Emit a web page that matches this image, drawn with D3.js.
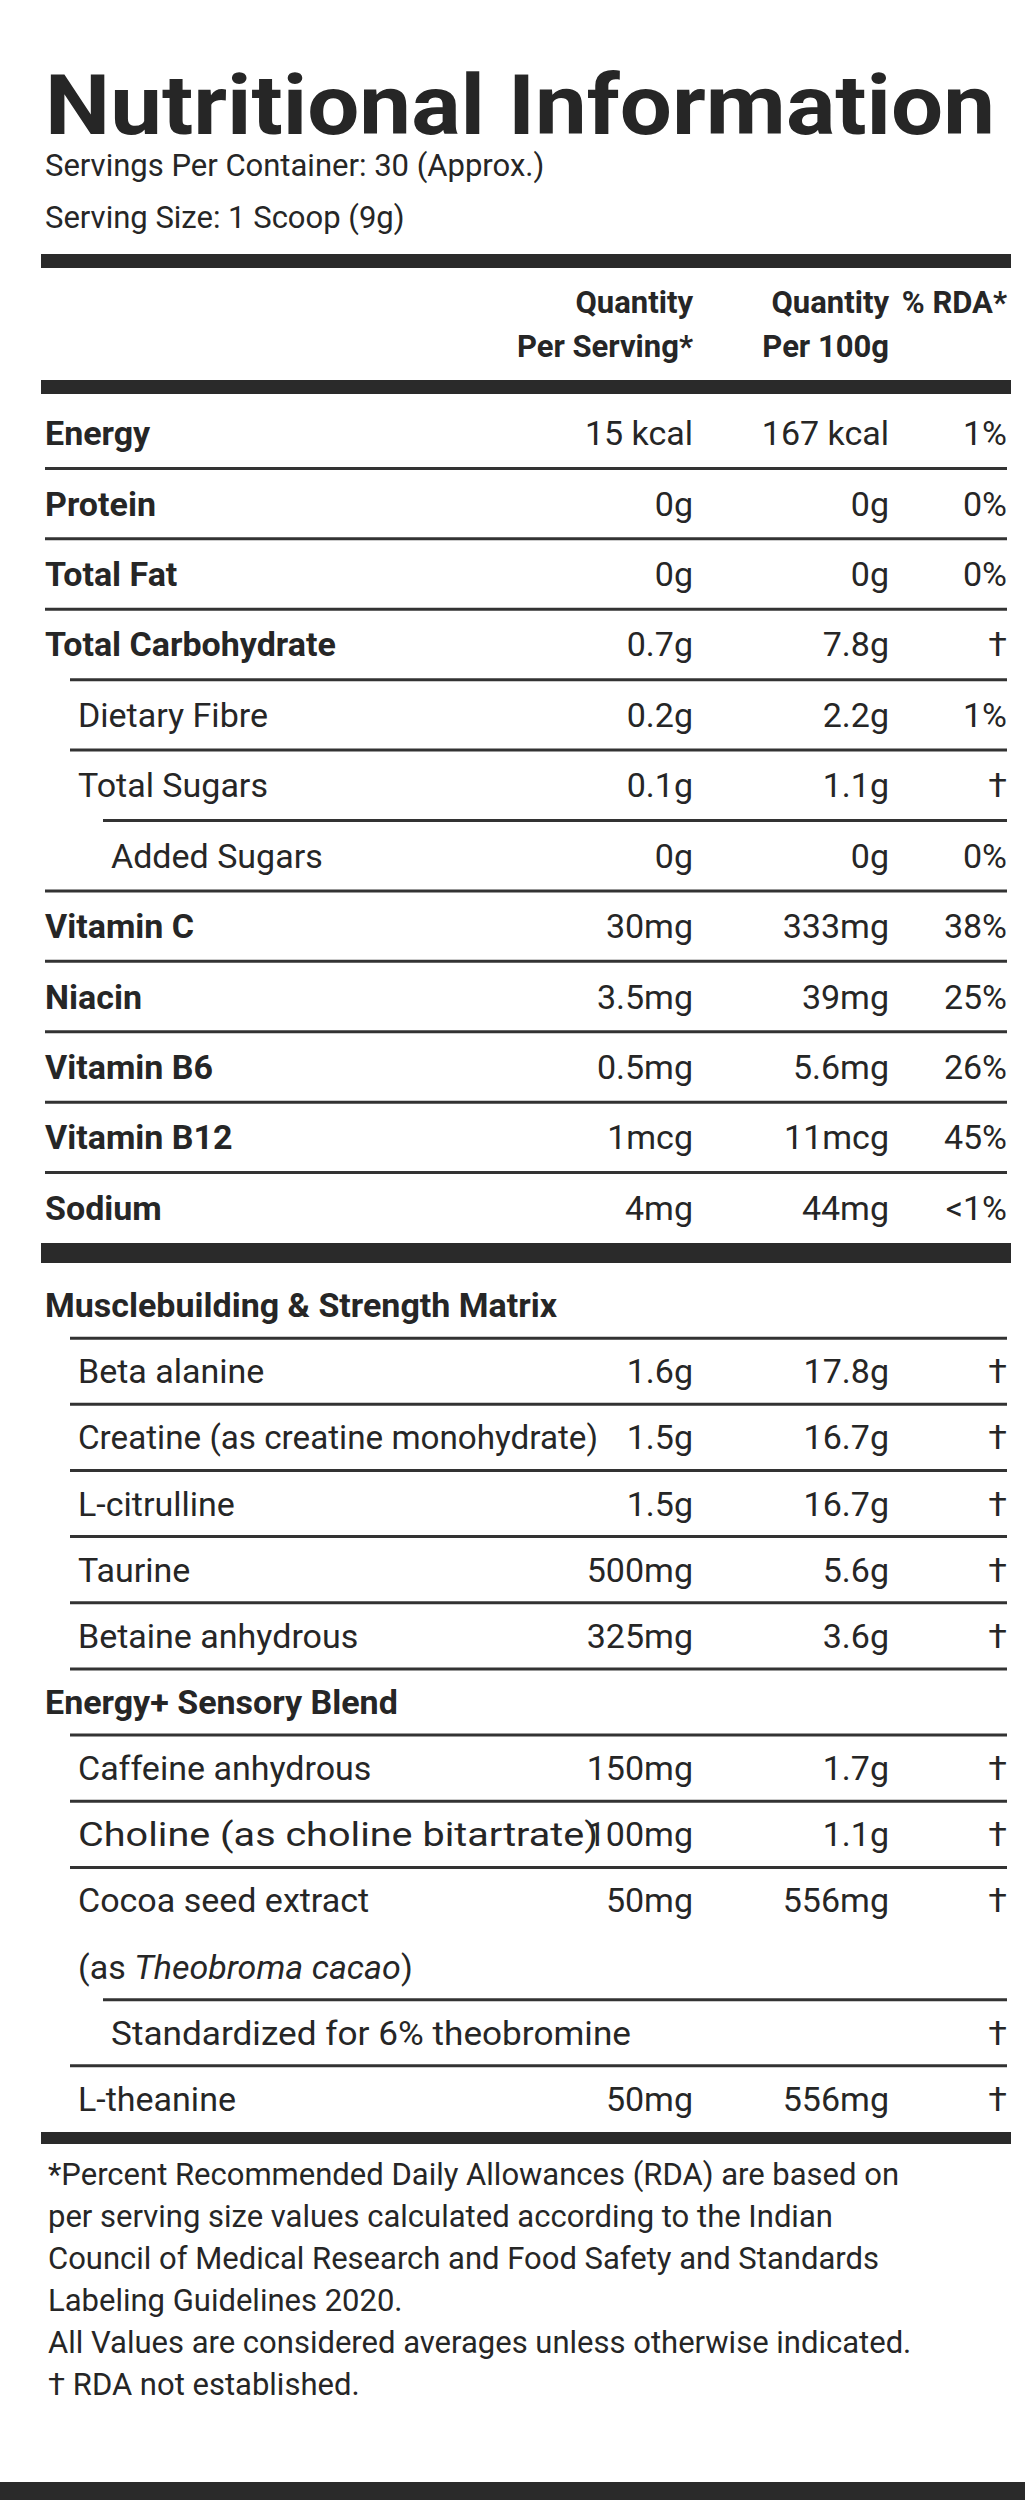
<!DOCTYPE html>
<html><head><meta charset="utf-8">
<script src="https://cdn.jsdelivr.net/npm/d3@7"></script>
<style>body{margin:0;background:#fff}text{font-family:"Liberation Sans Narrow","Roboto",sans-serif;fill:#262626}</style>
</head><body><svg id="c" width="1025" height="2500"></svg>
<script>
const names1=["Energy","Protein","Total Fat","Total Carbohydrate","Dietary Fibre","Total Sugars","Added Sugars","Vitamin C","Niacin","Vitamin B6","Vitamin B12","Sodium"];
const serv1=["15 kcal","0g","0g","0.7g","0.2g","0.1g","0g","30mg","3.5mg","0.5mg","1mcg","4mg"];
const per1=["167 kcal","0g","0g","7.8g","2.2g","1.1g","0g","333mg","39mg","5.6mg","11mcg","44mg"];
const rda1=["1%","0%","0%","†","1%","†","0%","38%","25%","26%","45%","<1%"];
const indent1=[0,0,0,0,1,1,2,0,0,0,0,0];
const names2=["Musclebuilding & Strength Matrix","Beta alanine","Creatine (as creatine monohydrate)","L-citrulline","Taurine","Betaine anhydrous","Energy+ Sensory Blend","Caffeine anhydrous","Choline (as choline bitartrate)","Cocoa seed extract","(as Theobroma cacao)","Standardized for 6% theobromine","L-theanine"];
const serv2=["","1.6g","1.5g","1.5g","500mg","325mg","","150mg","100mg","50mg","","","50mg"];
const per2=["","17.8g","16.7g","16.7g","5.6g","3.6g","","1.7g","1.1g","556mg","","","556mg"];
const rda2=["","†","†","†","†","†","","†","†","†","","†","†"];
const indent2=[0,1,1,1,1,1,0,1,1,1,1,2,1];
const footnotes=["*Percent Recommended Daily Allowances (RDA) are based on","per serving size values calculated according to the Indian","Council of Medical Research and Food Safety and Standards","Labeling Guidelines 2020.","All Values are considered averages unless otherwise indicated.","† RDA not established."];

const svg=d3.select("#c");
const L=45,R=1007,c1=693,c2=889,c3=1007;
svg.append("text").attr("x",L).attr("y",134).attr("font-size",84).attr("font-weight","bold").attr("textLength",950).attr("lengthAdjust","spacingAndGlyphs").text("Nutritional Information");
svg.append("text").attr("x",L).attr("y",176).attr("font-size",31).text("Servings Per Container: 30 (Approx.)");
svg.append("text").attr("x",L).attr("y",228).attr("font-size",31).text("Serving Size: 1 Scoop (9g)");
const bar=(y,h)=>svg.append("rect").attr("x",L-4).attr("y",y).attr("width",R-L+8).attr("height",h).attr("fill","#2a2a2a");
bar(254,14);
const hdr=[[c1,"end",["Quantity","Per Serving*"]],[c2,"end",["Quantity","Per 100g"]],[c3,"end",["% RDA*",""]]];
hdr.forEach(h=>h[2].forEach((t,i)=>svg.append("text").attr("x",h[0]).attr("y",313+i*44).attr("text-anchor",h[1]).attr("font-size",31).attr("font-weight","bold").text(t)));
bar(380,14);
function section(names,serv,per,rda,indent,y0,y1,boldFn){
  const y=d3.scaleBand().domain(d3.range(names.length)).range([y0,y1]);
  const g=svg.append("g");
  names.forEach((n,i)=>{
    const yy=y(i)+y.bandwidth()/2+12;
    const isB=boldFn(i);
    const t=g.append("text").attr("x",L+indent[i]*33).attr("y",yy).attr("font-size",34).attr("font-weight",isB?"bold":"normal");
    if(n==="(as Theobroma cacao)"){t.text("(as ");t.append("tspan").attr("font-style","italic").text("Theobroma cacao");t.append("tspan").text(")");}
    else t.text(n);
    if(n.length>30 && !isB) t.attr("textLength",520).attr("lengthAdjust","spacingAndGlyphs");
    g.append("text").attr("x",c1).attr("y",yy).attr("text-anchor","end").attr("font-size",34).text(serv[i]);
    g.append("text").attr("x",c2).attr("y",yy).attr("text-anchor","end").attr("font-size",34).text(per[i]);
    g.append("text").attr("x",c3).attr("y",yy).attr("text-anchor","end").attr("font-size",34).text(rda[i]);
    if(i<names.length-1 && n!=="Cocoa seed extract"){
      const nx=indent[i+1]>0?L+indent[i+1]*33-8:L;
      g.append("line").attr("x1",names===names2?Math.max(nx,L+25):nx).attr("x2",R).attr("y1",y(i+1)).attr("y2",y(i+1)).attr("stroke","#333").attr("stroke-width",3);
    }
  });
}
section(names1,serv1,per1,rda1,indent1,398,1243,i=>indent1[i]===0);
bar(1243,20);
section(names2,serv2,per2,rda2,indent2,1272,2132,i=>i===0||i===6);
bar(2132,12);
footnotes.forEach((f,i)=>svg.append("text").attr("x",L+3).attr("y",2185+i*42).attr("font-size",31).text(f));
svg.append("rect").attr("x",0).attr("y",2482).attr("width",1025).attr("height",18).attr("fill","#2a2a2a");
</script></body></html>
